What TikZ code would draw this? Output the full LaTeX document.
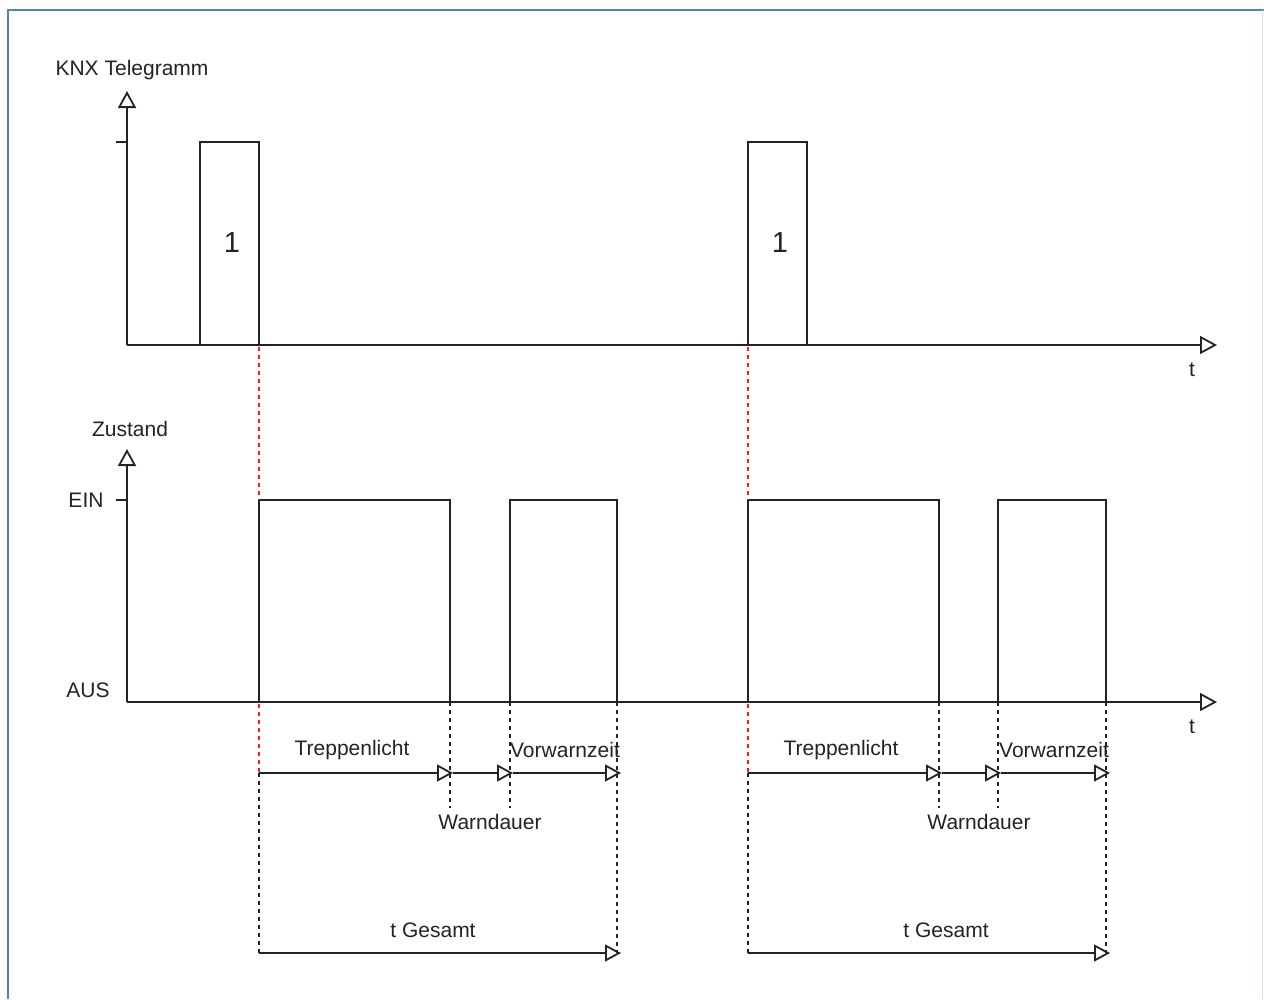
\documentclass[tikz,border=0pt]{standalone}
\usepackage{fontspec}
\setmainfont{Liberation Sans}
\usetikzlibrary{arrows.meta}
\definecolor{framebl}{RGB}{79,129,189}
\definecolor{ink}{RGB}{35,35,35}
\tikzset{
    axis/.style={ink, -{Triangle[open, length=17pt, width=18pt, line width=1.8pt]}},
    span/.style={ink, -{Triangle[open, length=16pt, width=17pt, line width=1.8pt]}},
    sig/.style={ink},
    guide/.style={ink, dash pattern=on 4pt off 4pt},
    trig/.style={red!90, dash pattern=on 4pt off 4pt},
    every node/.style={font=\fontsize{21}{25}\selectfont, inner sep=0pt, text=ink}
}

\begin{document}
\begin{tikzpicture}[x=1pt, y=-1pt, line width=1.9pt]
  \useasboundingbox (0,0) rectangle (1264,999);
  % frame
  \draw[framebl, line width=2pt] (8,999) -- (8,10) -- (1264,10);
  \draw[framebl!25, line width=1pt] (1262,10) -- (1262,999);

  % KNX telegram
  \coordinate (o1) at (127,345);
  \coordinate (y1) at (127,91);
  \coordinate (x1) at (1217,345);
  \coordinate (tk1) at (116,142);
  \coordinate (tk1e) at (127,142);
  \node (knx) at (132,70) {KNX Telegramm};
  \node (t1) at (1192,370) {t};
  \draw[axis] (o1) -- (y1);
  \draw[axis] (o1) -- (x1);
  \draw[sig] (tk1) -- (tk1e);

  \coordinate (k1a) at (200,345);
  \coordinate (k1b) at (259,142);
  \coordinate (k1c) at (259,345);
  \coordinate (k2a) at (748,345);
  \coordinate (k2b) at (807,142);
  \coordinate (k2c) at (807,345);
  \node (one1) [font=\fontsize{29}{33}\selectfont] at (232,243) {1};
  \node (one2) [font=\fontsize{29}{33}\selectfont] at (780,243) {1};
  \draw[sig] (k1a) |- (k1b) -- (k1c);
  \draw[sig] (k2a) |- (k2b) -- (k2c);

  % Zustand
  \coordinate (o2) at (127,702);
  \coordinate (y2) at (127,449);
  \coordinate (x2) at (1217,702);
  \coordinate (tk2) at (116,500);
  \coordinate (tk2e) at (127,500);
  \node (zust) at (130,429) {Zustand};
  \node (ein) at (86,500) {EIN};
  \node (aus) at (88,690) {AUS};
  \node (t2) at (1192,727) {t};
  \draw[axis] (o2) -- (y2);
  \draw[axis] (o2) -- (x2);
  \draw[sig] (tk2) -- (tk2e);

  \coordinate (s1a) at (259,702);
  \coordinate (s1b) at (450,500);
  \coordinate (s1c) at (450,702);
  \coordinate (s2a) at (510,702);
  \coordinate (s2b) at (617,500);
  \coordinate (s2c) at (617,702);
  \coordinate (s3a) at (748,702);
  \coordinate (s3b) at (939,500);
  \coordinate (s3c) at (939,702);
  \coordinate (s4a) at (998,702);
  \coordinate (s4b) at (1106,500);
  \coordinate (s4c) at (1106,702);
  \draw[sig] (s1a) |- (s1b) -- (s1c);
  \draw[sig] (s2a) |- (s2b) -- (s2c);
  \draw[sig] (s3a) |- (s3b) -- (s3c);
  \draw[sig] (s4a) |- (s4b) -- (s4c);

  % telegram -> switch on
  \coordinate (r1a) at (259,347);
  \coordinate (r1b) at (259,500);
  \coordinate (r2a) at (748,347);
  \coordinate (r2b) at (748,500);
  \coordinate (r1c) at (259,704);
  \coordinate (r1d) at (259,772);
  \coordinate (r2c) at (748,704);
  \coordinate (r2d) at (748,772);
  \draw[trig] (r1a) -- (r1b);
  \draw[trig] (r2a) -- (r2b);
  \draw[trig] (r1c) -- (r1d);
  \draw[trig] (r2c) -- (r2d);

  % time spans, first cycle
  \coordinate (a0) at (259,773);
  \coordinate (a1) at (453,773);
  \coordinate (a2) at (513,773);
  \coordinate (a3) at (621,773);
  \coordinate (g0) at (259,953);
  \coordinate (g1) at (621,953);
  \draw[guide] (a0) -- (g0);
  \draw[guide] (s1c) -- (450,808);
  \draw[guide] (s2a) -- (510,808);
  \draw[guide] (s2c) -- (617,953);
  \draw[span] (a0) -- (a1);
  \draw[span] (a1) -- (a2);
  \draw[span] (a2) -- (a3);
  \draw[span] (g0) -- (g1);
  \node (tl1) at (352,750) {Treppenlicht};
  \node (vw1) at (565,750) {Vorwarnzeit};
  \node (wd1) at (490,822) {Warndauer};
  \node (tg1) at (433,930) {t Gesamt};

  % time spans, second cycle
  \coordinate (b0) at (748,773);
  \coordinate (b1) at (942,773);
  \coordinate (b2) at (1001,773);
  \coordinate (b3) at (1110,773);
  \coordinate (h0) at (748,953);
  \coordinate (h1) at (1110,953);
  \draw[guide] (b0) -- (h0);
  \draw[guide] (s3c) -- (939,808);
  \draw[guide] (s4a) -- (998,808);
  \draw[guide] (s4c) -- (1106,953);
  \draw[span] (b0) -- (b1);
  \draw[span] (b1) -- (b2);
  \draw[span] (b2) -- (b3);
  \draw[span] (h0) -- (h1);
  \node (tl2) at (841,750) {Treppenlicht};
  \node (vw2) at (1054,750) {Vorwarnzeit};
  \node (wd2) at (979,822) {Warndauer};
  \node (tg2) at (946,930) {t Gesamt};
\end{tikzpicture}
\end{document}
